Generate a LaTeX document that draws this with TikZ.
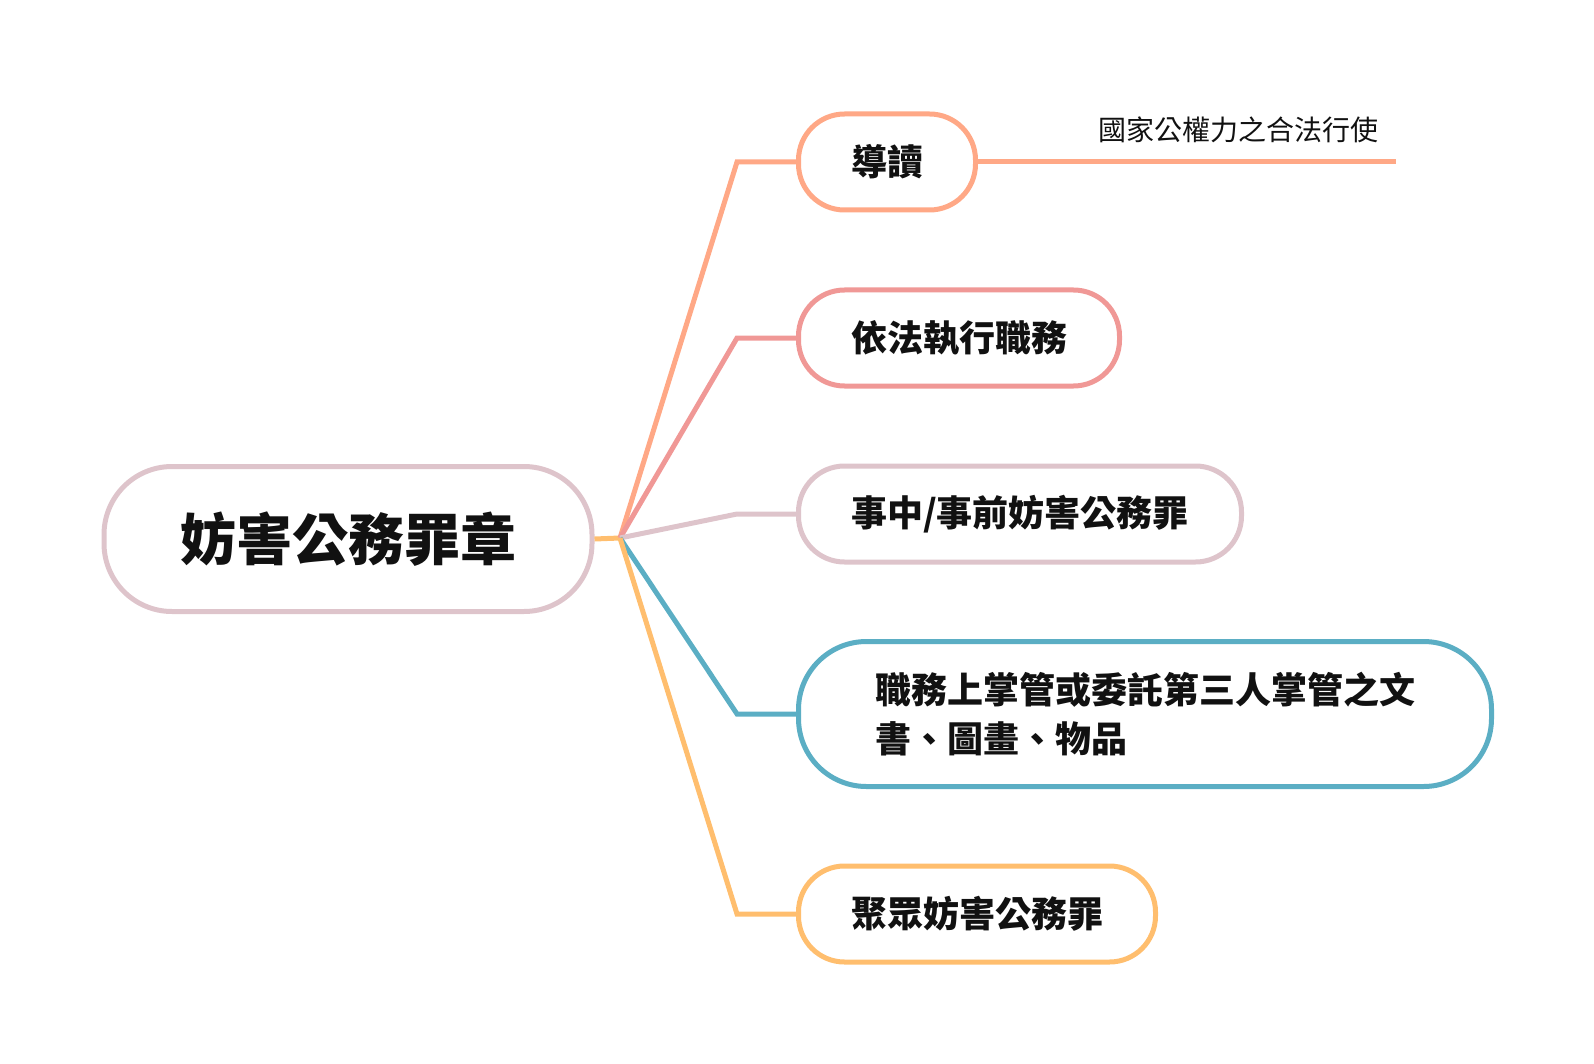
\documentclass[tikz,border=0pt]{standalone}
\usepackage{fontspec}
\setmainfont{Noto Sans CJK TC}
\usetikzlibrary{positioning}
\definecolor{rootline}{HTML}{DEC4CB}
\definecolor{brA}{HTML}{FFA886}
\definecolor{brB}{HTML}{F09896}
\definecolor{brC}{HTML}{DEC4CB}
\definecolor{brD}{HTML}{5BAEC4}
\definecolor{brE}{HTML}{FFBE6E}
\definecolor{ink}{HTML}{111111}

\begin{document}
\begin{tikzpicture}[
  x=1pt, y=-1pt,
  every node/.style={text=ink},
  topic/.style={draw,line width=5pt,fill=white,rounded corners=46pt,minimum height=96pt,
    font=\bfseries\fontsize{36}{49}\selectfont,align=left},
  root/.style={draw=rootline,line width=5pt,fill=white,rounded corners=68pt,minimum width=488pt,
    minimum height=145pt,font=\bfseries\fontsize{56}{60}\selectfont},
  link/.style={line width=5pt,line join=miter}
]
  \useasboundingbox (0,0) rectangle (1594,1064);

  \node[root] (root) at (348,539) {妨害公務罪章};
  \coordinate (hub) at (620,538);

  \node[topic,draw=brA,minimum width=177pt] (t1) at (887,162) {導讀};
  \node[topic,draw=brB,minimum width=321pt] (t2) at (959,338) {依法執行職務};
  \node[topic,draw=brC,minimum width=443pt] (t3) at (1020,514) {事中/事前妨害公務罪};
  \node[topic,draw=brD,minimum width=693pt,minimum height=145pt,rounded corners=68pt] (t4) at (1145,714)
    {職務上掌管或委託第三人掌管之文\\書、圖畫、物品};
  \node[topic,draw=brE,minimum width=357pt] (t5) at (977,914) {聚眾妨害公務罪};

  % note on the first topic
  \node[font=\fontsize{28}{30}\selectfont] (note) at (1238,130) {國家公權力之合法行使};
  \coordinate (noteend) at (1396,162);
  \draw[link,brA] (t1.east) -- (noteend);

  % branches
  \draw[link,brE] (root.east) -- (hub);
  \draw[link,brA] (hub) -- ([xshift=-59pt]t1.west) -- (t1.west);
  \draw[link,brB] (hub) -- ([xshift=-59pt]t2.west) -- (t2.west);
  \draw[link,brC] (hub) -- ([xshift=-59pt]t3.west) -- (t3.west);
  \draw[link,brD] (hub) -- ([xshift=-59pt]t4.west) -- (t4.west);
  \draw[link,brE] (hub) -- ([xshift=-59pt]t5.west) -- (t5.west);
\end{tikzpicture}
\end{document}
